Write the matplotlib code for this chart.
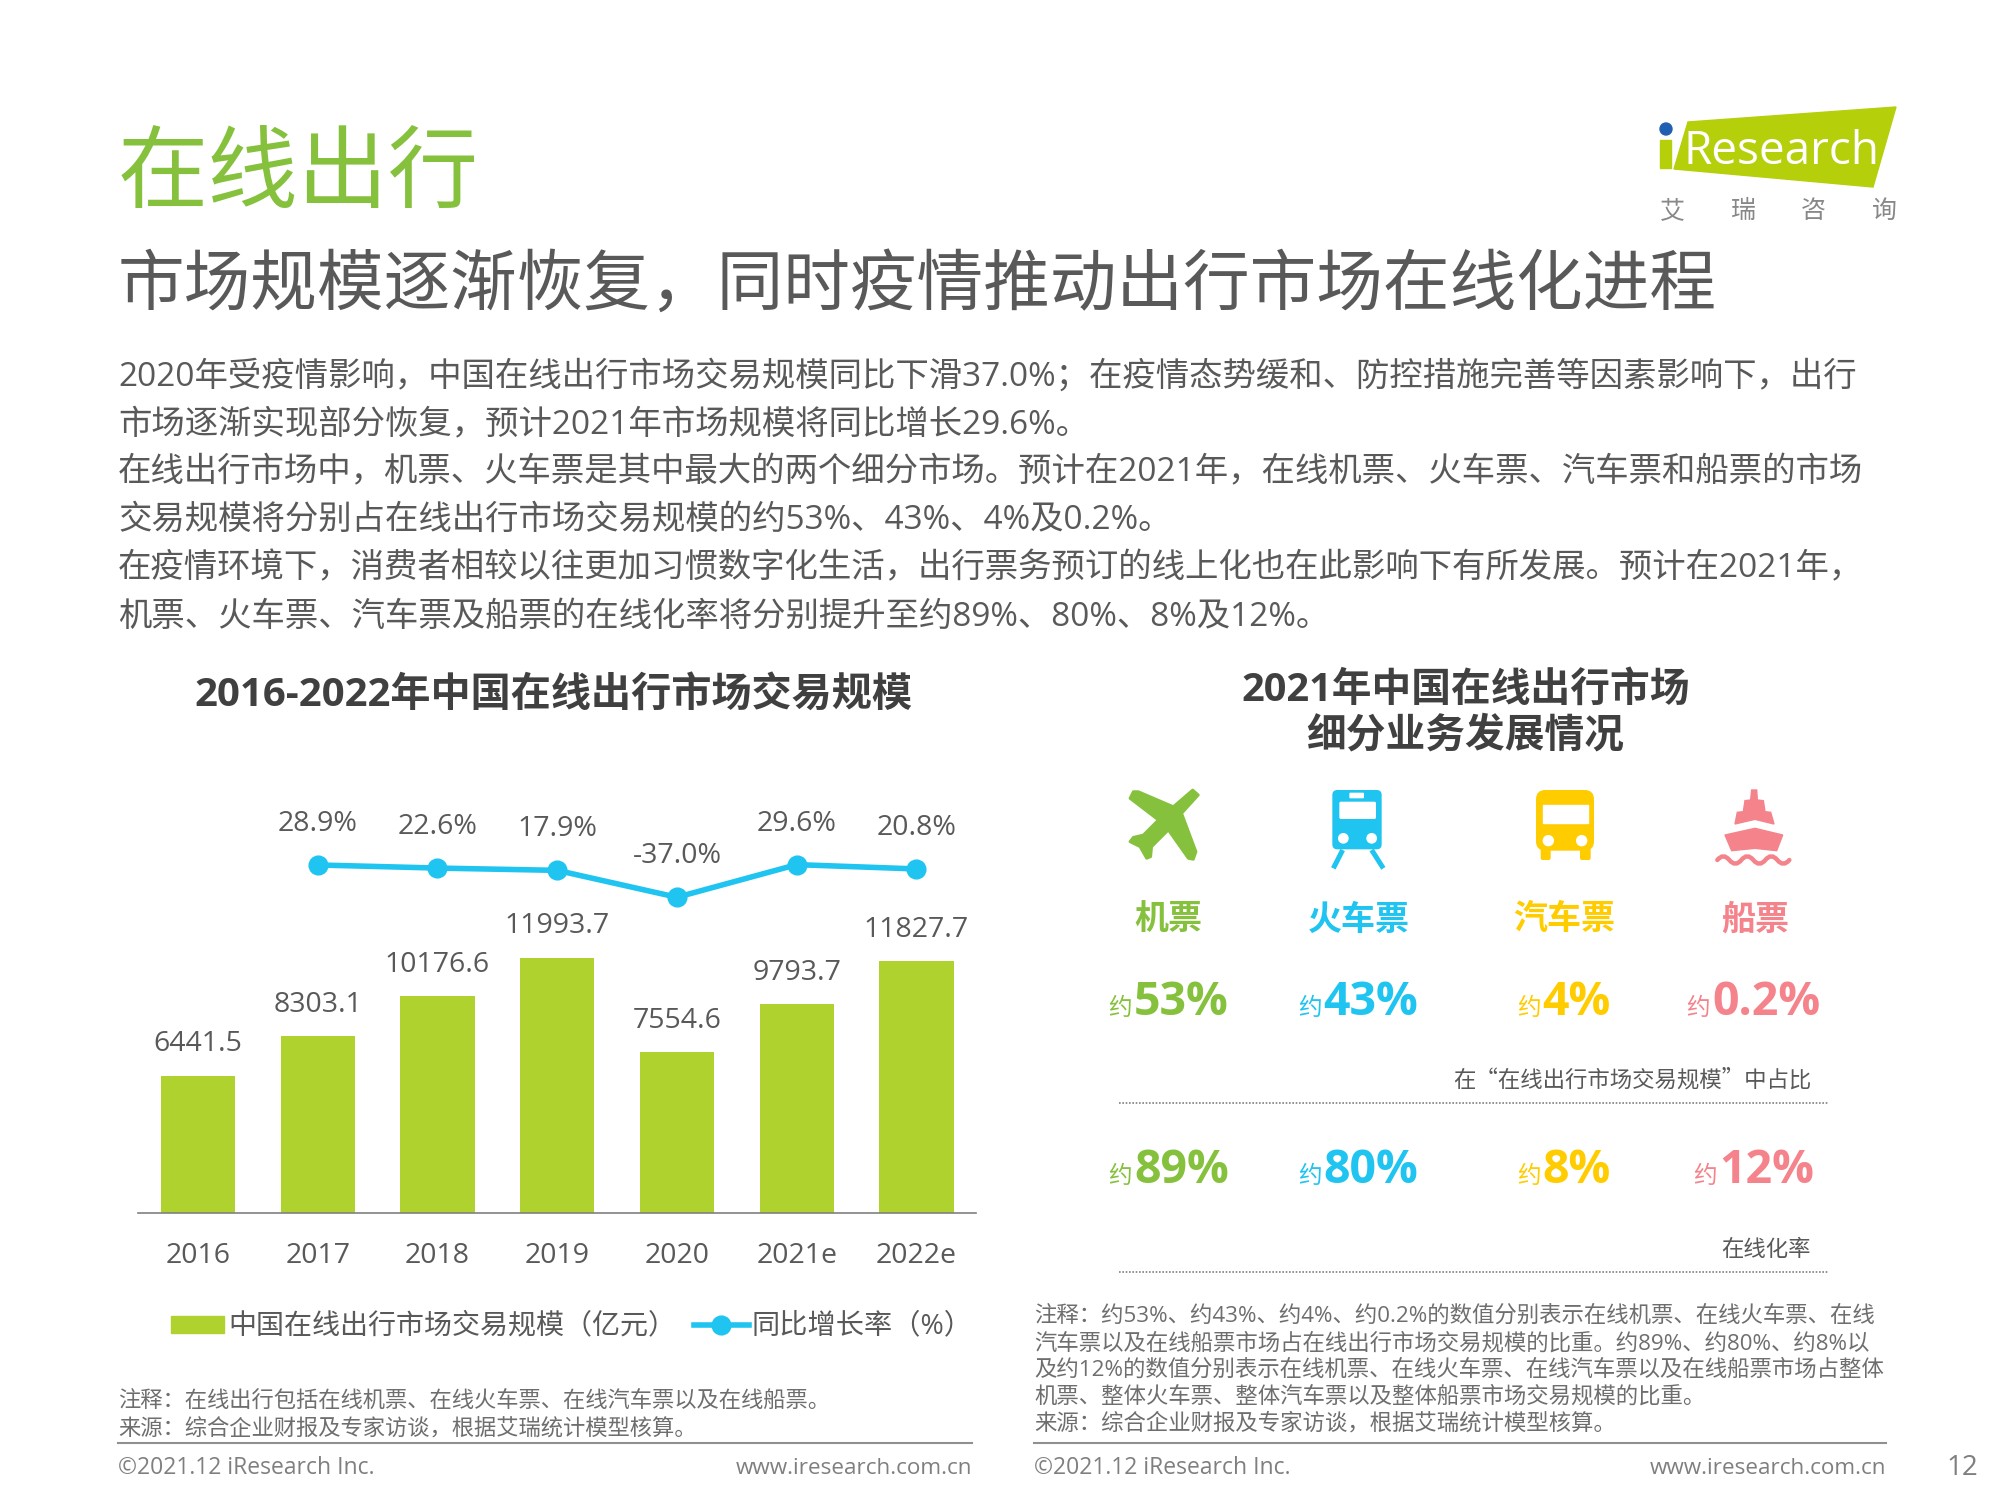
"""iResearch slide: online travel market size and segment shares
"""
import matplotlib
matplotlib.use("Agg")
import matplotlib.pyplot as plt
from matplotlib.patches import Circle, FancyBboxPatch, PathPatch, Polygon, Rectangle
from matplotlib.path import Path

plt.rcParams["font.family"] = ["Open Sans", "Noto Sans CJK SC", "DejaVu Sans"]

years = ["2016", "2017", "2018", "2019", "2020", "2021e", "2022e"]
market_size = [6441.5, 8303.1, 10176.6, 11993.7, 7554.6, 9793.7, 11827.7]
growth = [28.9, 22.6, 17.9, -37.0, 29.6, 20.8]

segments = ["机票", "火车票", "汽车票", "船票"]
share = ["53%", "43%", "4%", "0.2%"]
online_rate = ["89%", "80%", "8%", "12%"]

title = "在线出行"
subtitle = "市场规模逐渐恢复，同时疫情推动出行市场在线化进程"
body_lines = [
    "2020年受疫情影响，中国在线出行市场交易规模同比下滑37.0%；在疫情态势缓和、防控措施完善等因素影响下，出行",
    "市场逐渐实现部分恢复，预计2021年市场规模将同比增长29.6%。",
    "在线出行市场中，机票、火车票是其中最大的两个细分市场。预计在2021年，在线机票、火车票、汽车票和船票的市场",
    "交易规模将分别占在线出行市场交易规模的约53%、43%、4%及0.2%。",
    "在疫情环境下，消费者相较以往更加习惯数字化生活，出行票务预订的线上化也在此影响下有所发展。预计在2021年，",
    "机票、火车票、汽车票及船票的在线化率将分别提升至约89%、80%、8%及12%。",
]
left_notes = [
    "注释：在线出行包括在线机票、在线火车票、在线汽车票以及在线船票。",
    "来源：综合企业财报及专家访谈，根据艾瑞统计模型核算。",
]
right_notes = [
    "注释：约53%、约43%、约4%、约0.2%的数值分别表示在线机票、在线火车票、在线",
    "汽车票以及在线船票市场占在线出行市场交易规模的比重。约89%、约80%、约8%以",
    "及约12%的数值分别表示在线机票、在线火车票、在线汽车票以及在线船票市场占整体",
    "机票、整体火车票、整体汽车票以及整体船票市场交易规模的比重。",
    "来源：综合企业财报及专家访谈，根据艾瑞统计模型核算。",
]

GREEN = "#86c13d"
BAR_GREEN = "#b0d22f"
BLUE = "#1fc4f0"
YELLOW = "#ffcc00"
PINK = "#f4838b"
TEXT = "#595959"
DARK = "#404040"
NOTE = "#6e6e6e"
segment_colors = [GREEN, BLUE, YELLOW, PINK]

fig = plt.figure(figsize=(20, 15), dpi=100, facecolor="white")

# page overlay in pixel coordinates, y going down
page = fig.add_axes([0, 0, 1, 1], zorder=3)
page.set_xlim(0, 2000)
page.set_ylim(1500, 0)
page.axis("off")


def put(x, y, s, size, color=TEXT, weight="normal", ha="left", va="center", family=None):
    page.text(x, y, s, fontsize=size, color=color, fontweight=weight, ha=ha, va=va, family=family)


# Headers
put(118, 178, title, 65, GREEN)
put(118, 287, subtitle, 48, TEXT)
for y, line in zip([377, 425, 473, 520, 569, 617], body_lines):
    put(118, y, line, 24.05, TEXT)

put(553, 695, "2016-2022年中国在线出行市场交易规模", 28.9, DARK, "bold", ha="center")
put(1465.5, 690, "2021年中国在线出行市场", 28.6, DARK, "bold", ha="center")
put(1465.5, 736, "细分业务发展情况", 28.6, DARK, "bold", ha="center")

# Logo
page.add_patch(Polygon([(1688, 122), (1896, 107), (1873, 187), (1674, 169)], color="#b5cf0a"))
page.add_patch(Rectangle((1660, 140), 11, 28, color="#b5cf0a"))
page.add_patch(Circle((1666, 129), 6, color="#2060b0"))
put(1684, 164, "Research", 33, "white", va="baseline")
for x, s in zip([1672, 1743, 1813, 1884], "艾瑞咨询"):
    put(x, 211.5, s, 18, "#888888", ha="center")

# Left chart: bars and growth line
px_left, px_right, px_top, px_base = 138, 976, 800, 1212.5
ax = fig.add_axes([px_left / 2000, 1 - px_base / 1500, (px_right - px_left) / 2000, (px_base - px_top) / 1500])
x_pos = list(range(len(years)))
ax.bar(x_pos, market_size, width=0.62, color=BAR_GREEN)
ax.set_xlim(-0.5, 6.497)
ax.set_ylim(0, 19403)
ax.set_xticks(x_pos, years)
ax.tick_params(axis="x", length=0, pad=21, labelsize=20.5, labelcolor=TEXT)
ax.set_yticks([])
for side in ["top", "left", "right"]:
    ax.spines[side].set_visible(False)
ax.spines["bottom"].set_color("#808080")
ax.spines["bottom"].set_linewidth(1.2)
for x, v in zip(x_pos, market_size):
    ax.annotate(f"{v:.1f}", (x, v), xytext=(0, 17.5), textcoords="offset points",
                ha="center", va="baseline", fontsize=20.5, color=TEXT)

line_ax = ax.twinx()
line_ax.set_ylim(-680.3, 161.5)
line_ax.axis("off")
line_x = x_pos[1:]
line_ax.plot(line_x, growth, color=BLUE, lw=4, marker="o", ms=13.5)
for x, v in zip(line_x, growth):
    line_ax.annotate(f"{v:.1f}%", (x, v), xytext=(0, 24.5), textcoords="offset points",
                     ha="center", va="baseline", fontsize=20.5, color=TEXT)

# Legend
page.add_patch(Rectangle((171, 1316), 53, 17, color=BAR_GREEN))
put(228, 1326, "中国在线出行市场交易规模（亿元）", 20.2, TEXT)
page.plot([694, 749], [1324.5, 1324.5], color=BLUE, lw=4)
page.plot([721], [1324.5], "o", color=BLUE, ms=13.5)
put(752, 1326, "同比增长率（%）", 20.3, TEXT)


# Right panel: icons, drawn from 3x crop coordinates
def crop_pts(ox, oy, points):
    return [(ox + x / 3, oy + y / 3) for x, y in points]


def round_box(ox, oy, x0, y0, x1, y1, radius, color):
    # radius in crop units too
    page.add_patch(FancyBboxPatch((ox + (x0 + radius) / 3, oy + (y0 + radius) / 3),
                                  (x1 - x0 - 2 * radius) / 3, (y1 - y0 - 2 * radius) / 3,
                                  boxstyle=f"round,pad={radius / 3}", fc=color, ec="none"))


# plane
plane = [(248, 30), (265, 45), (215, 100), (258, 215), (250, 238), (235, 235), (175, 150),
         (125, 200), (122, 230), (110, 235), (90, 200), (60, 185), (70, 172), (100, 165),
         (145, 120), (60, 55), (70, 35), (85, 35), (190, 80)]
page.add_patch(Polygon(crop_pts(1110, 780, plane), closed=True, fc=GREEN, ec=GREEN, lw=2, joinstyle="round"))

# train
ox, oy = 1320, 780
round_box(ox, oy, 37, 30, 185, 208, 15, BLUE)
round_box(ox, oy, 58, 65, 168, 117, 5, "white")
round_box(ox, oy, 88, 38, 132, 55, 3, "white")
for x in [70, 155]:
    page.add_patch(Circle((ox + x / 3, oy + 175 / 3), 14 / 3, color="white"))
for x0, x1 in [(68, 40), (155, 190)]:
    page.plot([ox + x0 / 3, ox + x1 / 3], [oy + 210 / 3, oy + 265 / 3], color=BLUE, lw=3.6, solid_capstyle="butt")

# bus
ox, oy = 1520, 780
round_box(ox, oy, 48, 30, 222, 212, 28, YELLOW)
round_box(ox, oy, 62, 190, 92, 240, 6, YELLOW)
round_box(ox, oy, 180, 190, 212, 240, 6, YELLOW)
page.add_patch(Rectangle((ox + 68 / 3, oy + 75 / 3), 137 / 3, 55 / 3, color="white"))
for x in [85, 185]:
    page.add_patch(Circle((ox + x / 3, oy + 182 / 3), 15 / 3, color="white"))

# ship
ox, oy = 1700, 780
ship_top = [(155, 30), (170, 30), (172, 60), (190, 62), (195, 95), (212, 97), (222, 132),
            (165, 118), (105, 132), (112, 97), (130, 95), (135, 62), (152, 60)]
ship_hull = [(75, 165), (165, 145), (248, 165), (230, 212), (165, 205), (95, 212)]
page.add_patch(Polygon(crop_pts(ox, oy, ship_top), color=PINK))
page.add_patch(Polygon(crop_pts(ox, oy, ship_hull), color=PINK))
wave_vertices = [(ox + 52 / 3, oy + 240 / 3)]
wave_codes = [Path.MOVETO]
for i in range(6):
    x0 = 52 + i * 36
    ctrl = 218 if i % 2 == 0 else 262
    wave_vertices += [(ox + (x0 + 18) / 3, oy + ctrl / 3), (ox + (x0 + 36) / 3, oy + 240 / 3)]
    wave_codes += [Path.CURVE3, Path.CURVE3]
page.add_patch(PathPatch(Path(wave_vertices, wave_codes), fc="none", ec=PINK, lw=3.2, capstyle="round"))

# Right panel: labels and percentages
label_x = [1168, 1359, 1564, 1755]
for x, s, c in zip(label_x, segments, segment_colors):
    put(x, 920.5, s, 24.5, c, "bold", ha="center")

yue_x = [1108, 1298, 1517, 1686]
num_x = [1134, 1323, 1542, 1712]
for xa, xb, s, c in zip(yue_x, num_x, share, segment_colors):
    put(xa, 1015, "约", 17, c, va="baseline")
    put(xb, 1015, s, 33.5, c, "bold", va="baseline")

yue_x2 = [1108, 1298, 1517, 1693]
num_x2 = [1134, 1323, 1542, 1719]
for xa, xb, s, c in zip(yue_x2, num_x2, online_rate, segment_colors):
    put(xa, 1183, "约", 17, c, va="baseline")
    put(xb, 1183, s, 33.5, c, "bold", va="baseline")

cjk_only = ["Noto Sans CJK SC", "DejaVu Sans"]
put(1811, 1080.5, "在“在线出行市场交易规模”中占比", 16.15, TEXT, ha="right", family=cjk_only)
put(1811, 1249, "在线化率", 16.15, TEXT, ha="right", family=cjk_only)
for y in [1102.5, 1272]:
    page.plot([1119, 1829], [y, y], color="#808080", lw=1.2, ls=(0, (1, 1)))

# Notes and footer
for y, line in zip([1402, 1429.5], left_notes):
    put(118, y, line, 16.05, NOTE)
for y, line in zip([1316.5, 1343.5, 1370.5, 1396.5, 1423.5], right_notes):
    put(1034, y, line, 16.15, NOTE)

for x0, x1 in [(118, 972), (1034, 1886)]:
    page.plot([x0, x1], [1443, 1443], color="#909090", lw=1.5)
    put(x0, 1468, "©2021.12 iResearch Inc.", 16.5, "#7f7f7f")
    put(x1, 1468, "www.iresearch.com.cn", 16.2, "#7f7f7f", ha="right")
put(1978, 1468, "12", 20, "#7f7f7f", ha="right")

fig.savefig("out.png", dpi=100)
